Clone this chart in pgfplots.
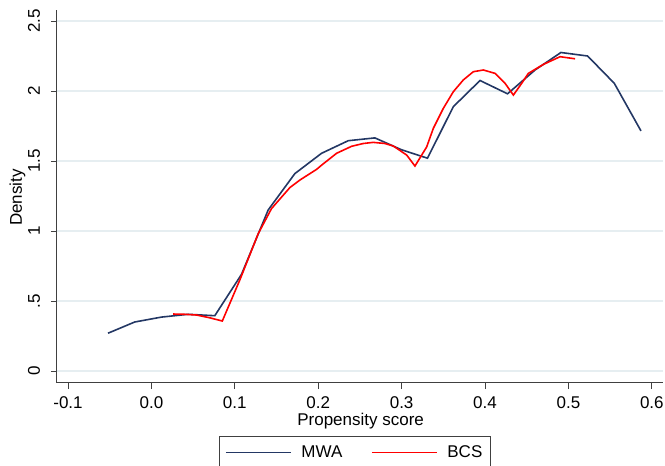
\documentclass[border=0pt]{standalone}
\usepackage{pgfplots}
\pgfplotsset{compat=1.18}
\usepackage{fontspec}
\setmainfont{Liberation Sans}
\definecolor{mwa}{RGB}{35,55,100}
\definecolor{bcs}{RGB}{255,0,0}
\definecolor{gridc}{RGB}{230,238,241}
\newcommand{\fs}{\fontsize{17}{20}\selectfont}
\begin{document}
\begin{tikzpicture}[x=1pt,y=1pt]
\useasboundingbox (-57,-83) rectangle (608,383);
\begin{axis}[
  scale only axis, width=606pt, height=373pt,
  xmin=-0.1132, xmax=0.6134, ymin=-0.0857, ymax=2.5786,
  axis x line*=bottom, axis y line*=left,
  axis line style={line width=1pt, color=black!75, -},
  xtick={-0.1,0,0.1,0.2,0.3,0.4,0.5,0.6},
  xticklabels={-0.1,0.0,0.1,0.2,0.3,0.4,0.5,0.6},
  ytick={0,0.5,1,1.5,2,2.5},
  yticklabels={0,.5,1,1.5,2,2.5},
  tick align=outside, major tick length=6pt,
  tick style={line width=1pt, color=black!75},
  ymajorgrids, major grid style={gridc, line width=1.5pt},
  tick label style={font=\fs},
  xticklabel style={anchor=base}, xticklabel shift=19pt,
  yticklabel style={rotate=90, anchor=base}, yticklabel shift=11pt,
  xlabel={Propensity score}, ylabel={Density},
  label style={font=\fs},
  xlabel style={at={(axis description cs:0.501,-0.114)}, anchor=base},
  ylabel style={at={(axis description cs:-0.0578,0.497)}, anchor=base, rotate=0},
  legend columns=2,
  legend style={at={(axis description cs:0.2673,-0.1421)}, anchor=north west,
    draw=black!75, line width=1pt, font=\fs, inner xsep=6pt, inner ysep=7pt,
    /tikz/every odd column/.append style={column sep=8pt},
    /tikz/every even column/.append style={column sep=27pt}},
  legend image code/.code={\draw[#1, line width=1pt] (0pt,0pt) -- (65pt,0pt);},
  clip=false,
]
\addplot[draw=mwa, line width=1.6pt] coordinates {
(-0.052,0.27) (-0.020,0.35) (0.012,0.385) (0.044,0.405) (0.076,0.395)
(0.108,0.69) (0.140,1.15) (0.172,1.41) (0.204,1.555) (0.236,1.645)
(0.268,1.665) (0.300,1.58) (0.331,1.52) (0.362,1.888) (0.394,2.075)
(0.427,1.98) (0.460,2.15) (0.491,2.275) (0.523,2.25) (0.555,2.055)
(0.587,1.715)
};
\addlegendentry{MWA}
\addplot[draw=bcs, line width=1.6pt] coordinates {
(0.026,0.407) (0.040,0.405) (0.054,0.400) (0.070,0.38) (0.085,0.357)
(0.106,0.65) (0.128,0.98) (0.144,1.16) (0.166,1.31) (0.178,1.364)
(0.198,1.44) (0.204,1.47) (0.222,1.555) (0.240,1.605) (0.254,1.625)
(0.266,1.633) (0.280,1.625) (0.290,1.607) (0.306,1.543) (0.316,1.464)
(0.330,1.60) (0.338,1.733) (0.350,1.876) (0.362,1.995) (0.374,2.079)
(0.386,2.138) (0.398,2.15) (0.412,2.126) (0.424,2.055) (0.434,1.971)
(0.444,2.055) (0.452,2.126) (0.470,2.19) (0.490,2.245) (0.508,2.23)
};
\addlegendentry{BCS}
\end{axis}
\end{tikzpicture}
\end{document}
